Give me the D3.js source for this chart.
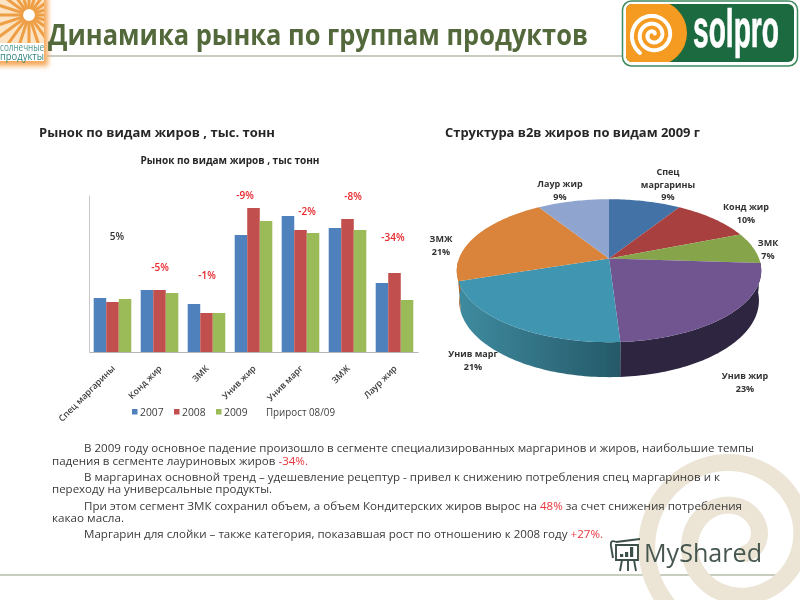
<!DOCTYPE html>
<html><head><meta charset="utf-8">
<script src="https://cdn.jsdelivr.net/npm/d3@7"></script>
<style>html,body{margin:0;padding:0;background:#fff}svg{display:block}text{font-family:"Open Sans",sans-serif}</style>
</head><body><div id="c"></div>
<script>
const categories=["Спец маргарины","Конд жир","ЗМК","Унив жир","Унив марг","ЗМЖ","Лаур жир"];
const years=["2007","2008","2009"];
const v2007=[54,62,48,117,136,124,69];
const v2008=[50,62,39,144,122,133,79];
const v2009=[53,59,39,131,119,122,52];
const growth=["5%","-5%","-1%","-9%","-2%","-8%","-34%"];
const growthY=[236,267,275,195,211,196,237];
const growthX=[117,160,207,245,307,353,393];
const barColors=["#4f81bd","#c0504d","#9bbb59"];
const pieLabels=[["Спец","маргарины"],["Конд жир"],["ЗМК"],["Унив жир"],["Унив марг"],["ЗМЖ"],["Лаур жир"]];
const pieShares=[9,10,7,23,21,21,9];
const pieColors=["#4272a6","#a8413f","#86a44a","#6f5590","#3f96b0","#da843a","#8fa5cf"];
const pieLabelX=[668,746,768,745,473,441,560];
const pieLabelY=[172,207,243,376,354,239,184];
const body=[
 {x:84,y:448,w:670,parts:[["В 2009 году основное падение произошло в сегменте специализированных маргаринов и жиров, наибольшие темпы",0]]},
 {x:52,y:461,w:256,parts:[["падения в сегменте лауриновых жиров ",0],["-34%.",1]]},
 {x:84,y:477,w:636,parts:[["В маргаринах основной тренд – удешевление рецептур - привел к снижению потребления спец маргаринов и к",0]]},
 {x:52,y:489,w:220,parts:[["переходу на универсальные продукты.",0]]},
 {x:84,y:506,w:658,parts:[["При этом сегмент ЗМК сохранил объем, а объем Кондитерских жиров вырос на ",0],["48%",1],[" за счет снижения потребления",0]]},
 {x:52,y:518,w:72,parts:[["какао масла.",0]]},
 {x:84,y:534,w:519,parts:[["Маргарин для слойки – также категория, показавшая рост по отношению к 2008 году ",0],["+27%.",1]]}
];
const svg=d3.select("#c").append("svg").attr("width",800).attr("height",600);
const defs=svg.append("defs");
defs.append("filter").attr("id","soft").attr("x","-5%").attr("y","-5%").attr("width","110%").attr("height","110%")
 .append("feGaussianBlur").attr("stdDeviation",0.5);
defs.append("filter").attr("id","glow").attr("x","-30%").attr("y","-30%").attr("width","160%").attr("height","160%")
 .append("feGaussianBlur").attr("stdDeviation",2.5);
const grad=(id,a,b)=>{const g=defs.append("linearGradient").attr("id",id).attr("gradientUnits","userSpaceOnUse")
 .attr("x1",457).attr("x2",625).attr("y1",0).attr("y2",0);
 g.append("stop").attr("offset",0).attr("stop-color",a);g.append("stop").attr("offset",1).attr("stop-color",b);};
grad("sideTeal","#3f8ba0","#245867");
const root=svg.append("g").attr("filter","url(#soft)");
const line=d3.line();

// frame lines
root.append("line").attr("x1",47).attr("x2",625).attr("y1",56).attr("y2",56).attr("stroke","#8f9c80").attr("stroke-width",1.2);
root.append("line").attr("x1",0).attr("x2",783).attr("y1",575).attr("y2",575).attr("stroke","#8f9c80").attr("stroke-width",1.2);

// background spiral
const spiral=(cx,cy,r0,pitch,t0,t1)=>d3.range(t0,t1,0.01).map(t=>{const a=Math.PI+2*Math.PI*t,r=r0-pitch*t;return [cx+r*Math.cos(a),cy+r*Math.sin(a)];});
root.append("path").attr("d",line(spiral(735,540,88,43,-0.3,1.65))).attr("fill","none").attr("stroke","#ece5d6").attr("stroke-width",17).attr("stroke-linecap","round");

// left logo
root.append("rect").attr("x",-6).attr("y",-6).attr("width",54).attr("height",72).attr("fill","#f6a95c").attr("filter","url(#glow)");
root.append("rect").attr("x",0).attr("y",0).attr("width",44).attr("height",61).attr("fill","#fff");
const lclip=defs.append("clipPath").attr("id","lc");lclip.append("rect").attr("width",44).attr("height",43);
const rays=root.append("g").attr("clip-path","url(#lc)");
rays.append("rect").attr("width",44).attr("height",43).attr("fill","#fbe3c4");
d3.range(0,360,18).forEach(a=>{const r=a*Math.PI/180;
 rays.append("line").attr("x1",29+6*Math.cos(r)).attr("y1",15+6*Math.sin(r)).attr("x2",29+60*Math.cos(r)).attr("y2",15+60*Math.sin(r))
  .attr("stroke","#ee9f45").attr("stroke-width",3);});
rays.append("circle").attr("cx",29).attr("cy",15).attr("r",5.5).attr("fill","#fff");
root.append("text").attr("x",0).attr("y",51).attr("font-size",10.5).attr("fill","#4f9a92").attr("textLength",44).attr("lengthAdjust","spacingAndGlyphs").text("солнечные");
root.append("text").attr("x",0).attr("y",60).attr("font-size",11).attr("fill","#2f8580").attr("textLength",44).attr("lengthAdjust","spacingAndGlyphs").text("продукты");

// title
root.append("text").attr("x",48).attr("y",45).attr("font-size",28).attr("font-weight",700).attr("fill","#53693a").attr("textLength",540).attr("lengthAdjust","spacingAndGlyphs").text("Динамика рынка по группам продуктов");

// solpro logo
root.append("rect").attr("x",622.5).attr("y",1).attr("width",175).attr("height",65).attr("rx",9).attr("fill","#fff").attr("stroke","#3f8a60").attr("stroke-width",1.5);
const sc=defs.append("clipPath").attr("id","sc");sc.append("rect").attr("x",626).attr("y",4).attr("width",168).attr("height",58).attr("rx",6);
const sl=root.append("g").attr("clip-path","url(#sc)");
sl.append("rect").attr("x",626).attr("y",4).attr("width",168).attr("height",58).attr("fill","#1d6a3f");
sl.append("rect").attr("x",626).attr("y",4).attr("width",28).attr("height",58).attr("fill","#f59b20");
sl.append("circle").attr("cx",654).attr("cy",33).attr("r",33).attr("fill","#f59b20");
root.append("path").attr("d",line(spiral(653,35,21,7.8,-0.15,2.4))).attr("fill","none").attr("stroke","#fff").attr("stroke-width",4).attr("stroke-linecap","round");
root.append("text").attr("transform","translate(693,47) scale(0.88,1.7)").attr("font-size",32).attr("font-weight",700).attr("fill","#fff").attr("stroke","#fff").attr("stroke-width",0.4).style("font-family",'"Liberation Sans Narrow","Liberation Sans",sans-serif').text("solpro");

// section headings
root.append("text").attr("x",39).attr("y",137).attr("font-size",13).attr("font-weight",700).attr("fill","#262626").attr("textLength",236).attr("lengthAdjust","spacingAndGlyphs").text("Рынок по видам жиров , тыс. тонн");
root.append("text").attr("x",445).attr("y",137).attr("font-size",13).attr("font-weight",700).attr("fill","#262626").attr("textLength",255).attr("lengthAdjust","spacingAndGlyphs").text("Структура в2в жиров по видам 2009 г");

// bar chart
const x0=d3.scaleBand().domain(categories).range([89,418]).paddingInner(0.2).paddingOuter(0.1);
const x1=d3.scaleBand().domain(years).range([0,x0.bandwidth()]);
const y=d3.scaleLinear().domain([0,157]).range([352,195]);
const series=[v2007,v2008,v2009];
years.forEach((yr,i)=>{
 root.append("g").selectAll("rect").data(series[i]).join("rect")
  .attr("x",(d,j)=>x0(categories[j])+x1(yr)).attr("width",x1.bandwidth())
  .attr("y",d=>y(d)).attr("height",d=>y(0)-y(d)).attr("fill",barColors[i]);
});
const ax=root.append("g").attr("transform","translate(0,352)").call(d3.axisBottom(x0).tickSize(0));
ax.select(".domain").attr("stroke","#b5b5b5").attr("stroke-width",1.2);
ax.selectAll("text").attr("font-size",8.8).attr("font-weight",600).attr("fill","#3a3a3a").attr("text-anchor","end")
  .attr("dx",0).attr("dy",0).attr("y",0).attr("transform","translate(3,17) rotate(-45)").style("font-family",'"Open Sans",sans-serif');
const ay=root.append("g").attr("transform","translate(89,0)").call(d3.axisLeft(y).tickValues([]).tickSize(0));
ay.select(".domain").attr("stroke","#c8c8c8").attr("stroke-width",1);
root.append("text").attr("x",230).attr("y",164).attr("text-anchor","middle").attr("font-size",10).attr("font-weight",700).attr("fill","#262626").attr("textLength",179).attr("lengthAdjust","spacingAndGlyphs").text("Рынок по видам жиров , тыс тонн");
root.append("g").selectAll("text").data(growth).join("text").attr("x",(d,i)=>growthX[i]).attr("y",(d,i)=>growthY[i]+3.5).attr("text-anchor","middle")
 .attr("font-size",10).attr("font-weight",600).attr("fill",d=>d==="5%"?"#333":"#e8262b").text(d=>d);
// legend
const legendX=[132,174,216];
years.forEach((yr,i)=>{
 root.append("rect").attr("x",legendX[i]).attr("y",409).attr("width",5.5).attr("height",5.5).attr("fill",barColors[i]);
 root.append("text").attr("x",legendX[i]+8).attr("y",415.5).attr("font-size",10.3).attr("fill","#404040").text(yr);
});
root.append("text").attr("x",266).attr("y",415.5).attr("font-size",10).attr("fill","#404040").attr("textLength",69).attr("lengthAdjust","spacingAndGlyphs").text("Прирост 08/09");

// pie
const pieAng=d3.pie().sort(null).value(d=>d)(pieShares);
const K=0.1706,PX=609,PY=258.5,A=69.4,B=150,DEPTH=29;
const top3=(a)=>{const X=Math.sin(a),Z=Math.cos(a),w=1+K*Z;return [PX+B*X/w,PY-A*Z/w];};
const bot3=(a)=>{const X=Math.sin(a),Z=Math.cos(a),w=1+K*Z;return [PX+0.985*B*X/w,PY-A*Z/w+DEPTH/w];};
const arcAngles=(s,e)=>{const n=Math.max(2,Math.ceil((e-s)/0.02));return d3.range(n+1).map(i=>s+(e-s)*i/n);};
const sideLo=Math.PI/2*1.03,sideHi=Math.PI*1.49;
const sideFill=["","","","#2e2540","url(#sideTeal)","#b4692c",""];
pieAng.forEach((p,i)=>{
 const s=Math.max(p.startAngle,sideLo),e=Math.min(p.endAngle,sideHi);
 if(e<=s) return;
 const ang=arcAngles(s,e);
 root.append("path").attr("d",line(ang.map(top3).concat(ang.slice().reverse().map(bot3)))+"Z").attr("fill",sideFill[i]);
});
root.append("g").selectAll("path").data(pieAng).join("path")
 .attr("d",p=>line([[PX,PY]].concat(arcAngles(p.startAngle,p.endAngle).map(top3)))+"Z")
 .attr("fill",(p,i)=>pieColors[i]);
const lab=root.append("g").attr("font-size",9).attr("font-weight",700).attr("fill","#333").attr("text-anchor","middle");
pieShares.forEach((s,i)=>{
 const lines=pieLabels[i].concat([s+"%"]);
 lines.forEach((t,k)=>lab.append("text").attr("x",pieLabelX[i]).attr("y",pieLabelY[i]+3+k*12.6).text(t));
});

// body text
body.forEach(b=>{
 const t=root.append("text").attr("x",b.x).attr("y",b.y+4).attr("font-size",11.2).attr("fill","#3a3a3a").attr("textLength",b.w).attr("lengthAdjust","spacingAndGlyphs");
 b.parts.forEach(p=>t.append("tspan").attr("fill",p[1]?"#e8363c":"#3a3a3a").text(p[0]));
});

// watermark
const wm=root.append("g").attr("fill","none").attr("stroke","#3d4f48").attr("stroke-width",1.9);
wm.append("path").attr("d","M616 542 Q610 539 611 546 L613 558 M616 542 L640 539 M616 545 H638 V560 H616 Z M622 560 L620 571 M628 560 V571 M634 560 L636 571");
root.append("g").attr("fill","#3d4f48").selectAll("rect").data([3,5,10]).join("rect").attr("x",(d,i)=>620+i*5).attr("y",d=>557-d).attr("width",3.2).attr("height",d=>d);
root.append("text").attr("x",644).attr("y",562).attr("font-size",26).attr("fill","#46574f").attr("textLength",118).attr("lengthAdjust","spacingAndGlyphs").text("MyShared");
</script></body></html>
